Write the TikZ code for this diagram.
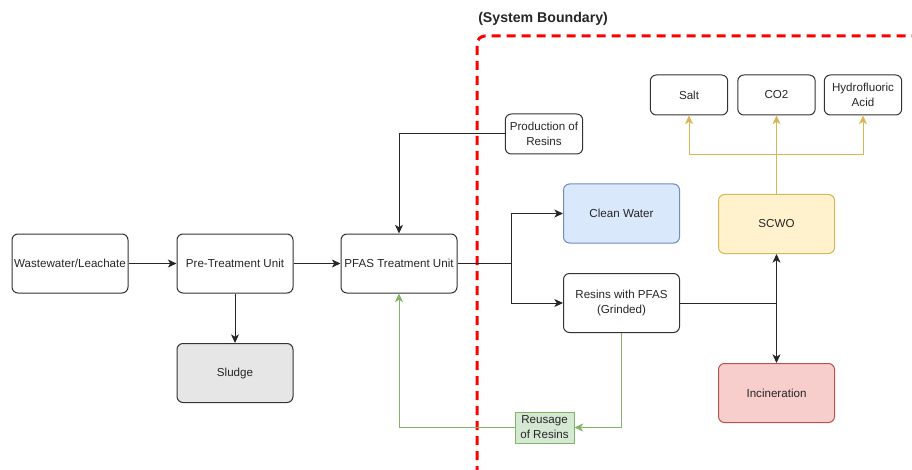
\documentclass[tikz,border=0pt]{standalone}
\usepackage{fontspec}
\setmainfont{Liberation Sans}
\usetikzlibrary{arrows.meta}
\definecolor{sludgefill}{HTML}{E6E6E6}
\definecolor{waterfill}{HTML}{DAE8FC}
\definecolor{waterline}{HTML}{6C8EBF}
\definecolor{scwofill}{HTML}{FFF2CC}
\definecolor{scwoline}{HTML}{D6B656}
\definecolor{incinfill}{HTML}{F8CECC}
\definecolor{incinline}{HTML}{B85450}
\definecolor{reusefill}{HTML}{D5E8D4}
\definecolor{reuseline}{HTML}{82B366}
\definecolor{boundred}{HTML}{FF0000}
\tikzset{
  box/.style={draw=black!80, line width=0.75pt, rounded corners=4.5pt, align=center,
    minimum width=87pt, minimum height=44.25pt, inner sep=1pt, text=black!85,
    font=\fontsize{8.7}{11.2}\selectfont},
  smallbox/.style={box, minimum width=58pt, minimum height=30pt},
  reusebox/.style={draw=reuseline, fill=reusefill, line width=0.75pt, align=center,
    minimum width=44.25pt, minimum height=23.25pt, inner sep=0.5pt, text=black!85,
    font=\fontsize{8.7}{11.2}\selectfont},
  flow/.style={draw=black!85, line width=0.75pt, -{Stealth[length=6.5pt,width=6pt,inset=1.8pt]}},
  goldflow/.style={flow, draw=scwoline, color=scwoline},
  greenflow/.style={flow, draw=reuseline, color=reuseline}
}
\begin{document}
\begin{tikzpicture}[x=0.75pt,y=-0.75pt]
\useasboundingbox (0,0) rectangle (912,470);
\draw[boundred, line width=2.25pt, dash pattern=on 6.75pt off 4.5pt, rounded corners=6pt]
  (477,490) -- (477,36) -- (930,36);
\node[font=\bfseries\fontsize{10.6}{12}\selectfont, text=black!85, anchor=west, inner sep=0pt] (sysb) at (478,19) {(System Boundary)};
\node[box] (waste) at (70,263.5) {Wastewater/Leachate};
\node[box] (pre) at (235,263.5) {Pre-Treatment Unit};
\node[box] (pfas) at (399,263.5) {PFAS Treatment Unit};
\node[box, fill=sludgefill] (sludge) at (235,373) {Sludge};
\node[smallbox] (prod) at (544,134) {Production of\\Resins};
\node[box, draw=waterline, fill=waterfill] (water) at (621.5,213.5) {Clean Water};
\node[box] (resins) at (621.5,303) {Resins with PFAS\\(Grinded)};
\node[box, draw=scwoline, fill=scwofill] (scwo) at (776.5,224) {SCWO};
\node[box, draw=incinline, fill=incinfill] (incin) at (776.5,393) {Incineration};
\node[smallbox] (salt) at (689,95) {Salt};
\node[smallbox] (co2) at (776.5,95) {CO2};
\node[smallbox] (hf) at (863,95) {Hydrofluoric\\Acid};
\node[reusebox] (reuse) at (544.5,427.5) {Reusage\\of Resins};
\draw[flow] (waste) -- (pre);
\draw[flow] (pre) -- (pfas);
\draw[flow] (pre) -- (sludge);
\draw[flow] (prod.west) -| (pfas.north);
\coordinate (split) at (511,263.5);
\draw[black!85, line width=0.75pt] (pfas.east) -- (split);
\draw[flow] (split) |- (water.west);
\draw[flow] (split) |- (resins.west);
\coordinate (junc) at (776.5,303);
\draw[black!85, line width=0.75pt] (resins.east) -- (junc);
\draw[flow] (junc) -- (scwo.south);
\draw[flow] (junc) -- (incin.north);
\coordinate (fork) at (776.5,155);
\draw[goldflow] (scwo.north) -- (co2.south);
\draw[goldflow] (fork) -| (salt.south);
\draw[goldflow] (fork) -| (hf.south);
\draw[greenflow] (resins.south) |- (reuse.east);
\draw[greenflow] (reuse.west) -| (pfas.south);
\end{tikzpicture}
\end{document}
